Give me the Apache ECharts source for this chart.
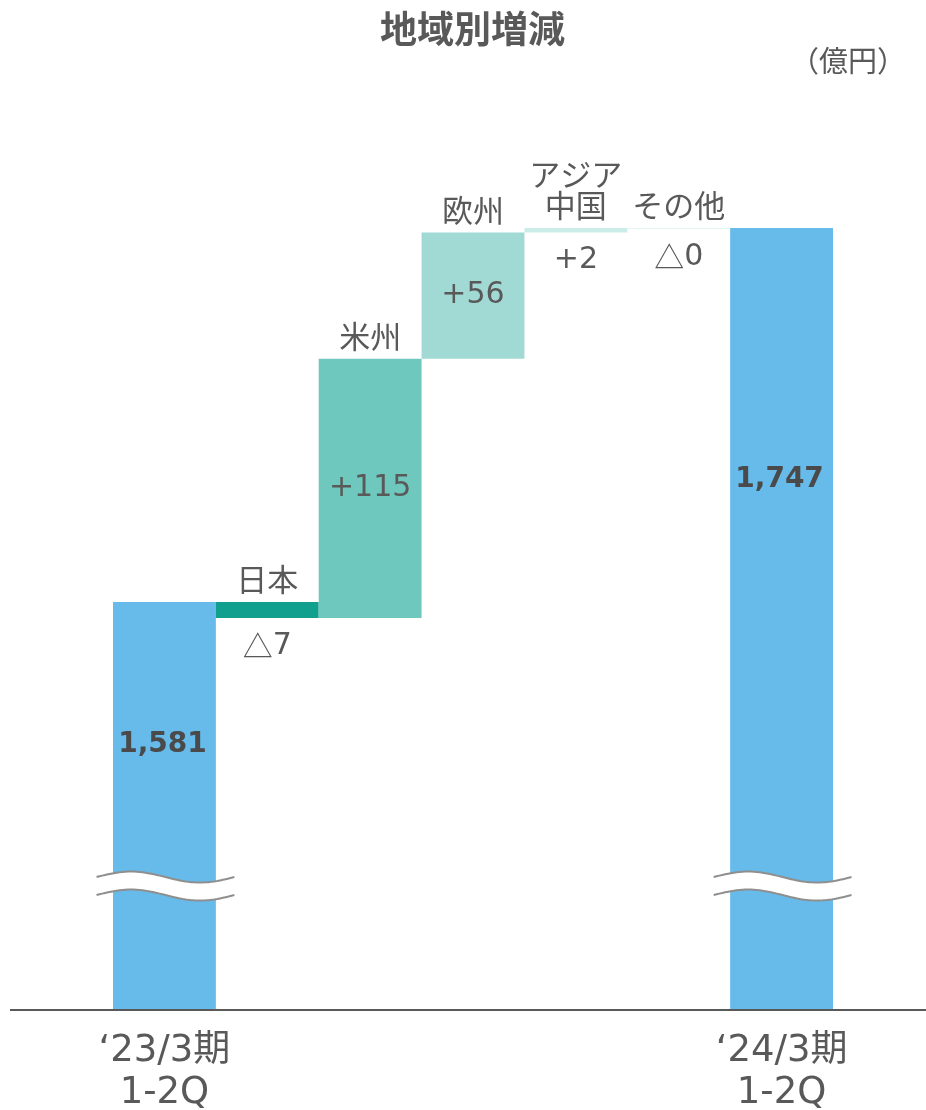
<!DOCTYPE html>
<html>
<head>
<meta charset="utf-8">
<script src="https://cdn.jsdelivr.net/npm/echarts@6/dist/echarts.min.js"></script>
<style>
  html, body { margin: 0; padding: 0; background: #ffffff; }
  #chart { width: 926px; height: 1110px; }
</style>
</head>
<body>
<div id="chart"></div>
<script>
// Period totals (億円) and the regional changes between them
const periods = ['‘23/3期\n1-2Q', '‘24/3期\n1-2Q'];
const startTotal = 1581;
const endTotal = 1747;
const regions = ['日本', '米州', '欧州', 'アジア\n中国', 'その他'];
const regionChanges = [-7, 115, 56, 2, 0];

// Value-axis window (the bars are cut by a break mark below it)
const axisMin = 1400;
const axisMax = 1800;
const breakAt = 1455;

const TEXT = '#595959';
const LATIN = "'DejaVu Sans', 'Noto Sans CJK JP', sans-serif";
const CJK = "'Noto Sans CJK JP', sans-serif";
const regionColors = ['#11A08D', '#6FC8BD', '#A1DAD5', '#CBEDEA', '#E3F5F3'];

const categories = [periods[0], ...regions, periods[1]];
const lastIdx = categories.length - 1;

// Running levels for the floating bars
const floating = [];
let level = startTotal;
regionChanges.forEach((d, i) => {
  const next = level + d;
  floating.push([i + 1, Math.min(level, next), Math.max(level, next), d, i]);
  level = next;
});

const totals = categories.map((_, i) => i === 0 ? startTotal : (i === lastIdx ? endTotal : '-'));

const chart = echarts.init(document.getElementById('chart'), null, { renderer: 'canvas' });

function changeText(d) {
  return d <= 0 ? '{tri|△}{num|' + Math.abs(d) + '}' : '{num|+' + d + '}';
}
const changeRich = {
  tri: { fontFamily: CJK, fontSize: 30, fill: TEXT, color: TEXT },
  num: { fontFamily: LATIN, fontSize: 30, fill: TEXT, color: TEXT }
};

function renderChange(params, api) {
  const x = api.value(0), lo = api.value(1), hi = api.value(2), d = api.value(3), k = api.value(4);
  const top = api.coord([x, hi]);
  const bot = api.coord([x, lo]);
  const w = api.size([1, 0])[0];
  const h = Math.max(bot[1] - top[1], 1);
  const children = [
    { type: 'rect', shape: { x: top[0] - w / 2, y: top[1], width: w, height: h },
      style: { fill: regionColors[k] } },
    { type: 'text', style: { text: regions[k], x: top[0], y: top[1] - 7,
      align: 'center', verticalAlign: 'bottom', font: '31px ' + CJK, lineHeight: 31, fill: TEXT } }
  ];
  const inside = h > 60;
  children.push({ type: 'text', style: {
    text: changeText(d), rich: changeRich,
    x: top[0], y: inside ? top[1] + h / 2 : top[1] + h + 13,
    align: 'center', verticalAlign: inside ? 'middle' : 'top', lineHeight: 30 } });
  return { type: 'group', children };
}

function renderBreak(params, api) {
  const c = api.coord([api.value(0), api.value(1)]);
  const w = api.size([1, 0])[0];
  const x0 = c[0] - 0.66 * w, x1 = c[0] + 0.68 * w;
  const n = 48, upper = [], lower = [];
  for (let j = 0; j <= n; j++) {
    const t = j / n;
    const xx = x0 + t * (x1 - x0);
    const yy = c[1] - 5.5 * Math.sin(2 * Math.PI * t);
    upper.push([xx, yy - 9]);
    lower.push([xx, yy + 9]);
  }
  return { type: 'group', children: [
    { type: 'polygon', shape: { points: upper.concat(lower.slice().reverse()) }, style: { fill: '#ffffff' } },
    { type: 'polyline', shape: { points: upper }, style: { stroke: '#8f8f8f', lineWidth: 2, fill: null } },
    { type: 'polyline', shape: { points: lower }, style: { stroke: '#8f8f8f', lineWidth: 2, fill: null } }
  ] };
}

const option = {
  backgroundColor: '#ffffff',
  animation: false,
  title: [
    { text: '地域別増減', left: 375, top: 5,
      textStyle: { fontFamily: CJK, fontSize: 37, fontWeight: 'bold', color: TEXT } },
    { text: '（億円）', right: 15, top: 41,
      textStyle: { fontFamily: CJK, fontSize: 29, fontWeight: 'normal', color: TEXT } }
  ],
  grid: { left: 113, right: 93, top: 108.6, bottom: 100, outerBoundsMode: 'none', containLabel: false },
  xAxis: {
    type: 'category',
    data: categories,
    axisLine: { show: false },
    axisTick: { show: false },
    axisLabel: {
      interval: (i) => i === 0 || i === lastIdx,
      fontFamily: LATIN, fontSize: 37, lineHeight: 42, color: TEXT, margin: 20
    }
  },
  yAxis: {
    type: 'value', min: axisMin, max: axisMax, show: false,
    splitLine: { show: false }
  },
  series: [
    {
      type: 'bar',
      data: totals.map((v, i) => v === '-' ? v : {
        value: v,
        label: { offset: [-2, i === 0 ? -61 : -139] }
      }),
      barWidth: '100%',
      itemStyle: { color: '#66BBEA' },
      label: {
        show: true, position: 'inside',
        formatter: (p) => Number(p.value).toLocaleString('en-US'),
        fontFamily: LATIN, fontWeight: 'bold', fontSize: 28, color: '#4a4a4a'
      },
      z: 2
    },
    {
      type: 'custom',
      data: floating,
      renderItem: renderChange,
      encode: { x: 0, y: [1, 2] },
      z: 3
    },
    {
      type: 'custom',
      data: [[0, breakAt], [lastIdx, breakAt]],
      renderItem: renderBreak,
      encode: { x: 0, y: 1 },
      clip: false,
      z: 5
    }
  ]
};

chart.setOption(option);

// Baseline across the full width at the bottom of the value window
const baseY = chart.convertToPixel({ yAxisIndex: 0 }, axisMin);
chart.setOption({
  graphic: [{
    type: 'line', z: 10,
    shape: { x1: 10, y1: baseY, x2: 926, y2: baseY },
    style: { stroke: TEXT, lineWidth: 2 }
  }]
});
</script>
</body>
</html>
